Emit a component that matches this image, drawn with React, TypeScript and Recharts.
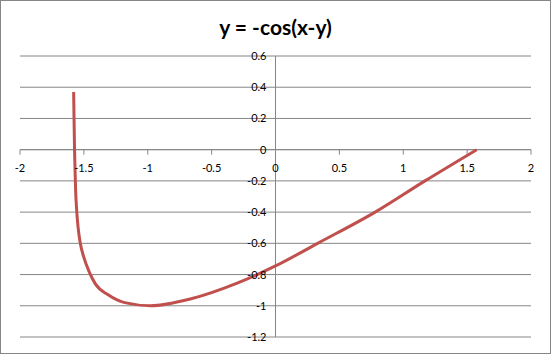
import {
  LineChart,
  Line,
  CartesianGrid,
  XAxis,
  YAxis,
  ReferenceLine,
} from "recharts";

// points
const xValues = [
  -1.58, -1.577, -1.575, -1.573, -1.57, -1.565, -1.557, -1.545, -1.528, -1.5,
  -1.46, -1.41, -1.31, -1.18, -0.98, -0.66, -0.3, 0, 0.33, 0.78, 1.17, 1.575,
];
const yValues = [
  0.37, 0.2, 0.1, 0, -0.1, -0.25, -0.38, -0.5, -0.6, -0.69,
  -0.78, -0.86, -0.93, -0.98, -1.0, -0.955, -0.855, -0.745, -0.6, -0.4, -0.2, 0,
];
const xTicks = [-2, -1.5, -1, -0.5, 0, 0.5, 1, 1.5, 2];
const yTicks = [-1.2, -1, -0.8, -0.6, -0.4, -0.2, 0, 0.2, 0.4, 0.6];
const title = "y = -cos(x-y)";

const data = xValues.map((x, i) => ({ x, y: yValues[i] }));

const W = 551;
const H = 354;
const margin = { top: 56, right: 20, bottom: 16, left: 19 };
const plotLeft = margin.left + 1;
const plotW = W - plotLeft - margin.right;
const plotH = H - margin.top - margin.bottom - 1;
const zeroX = plotLeft + (plotW * (0 - xTicks[0])) / (xTicks[xTicks.length - 1] - xTicks[0]);
const zeroY = margin.top + (plotH * yTicks[yTicks.length - 1]) / (yTicks[yTicks.length - 1] - yTicks[0]);

const grid = "#868686";
const font = "Lato, 'Open Sans', sans-serif";

const renderXTick = (props: any) => {
  const { x, payload } = props;
  return (
    <g>
      <line x1={x} x2={x} y1={zeroY} y2={zeroY + 5} stroke={grid} />
      <text x={x} y={zeroY + 22} textAnchor="middle" fontSize={11} fontFamily={font} fill="#000">
        {payload.value}
      </text>
    </g>
  );
};

const renderYTick = (props: any) => {
  const { y, payload } = props;
  return (
    <text x={zeroX - 9} y={y + 4} textAnchor="end" fontSize={11} fontFamily={font} fill="#000">
      {payload.value}
    </text>
  );
};

export default function App() {
  return (
    <div style={{ position: "absolute", left: 0, top: 0, width: W, height: H, background: "#fff" }}>
      <LineChart width={W} height={H} data={data} margin={margin}>
        <text x={W / 2} y={35} textAnchor="middle" fontSize={21} fontWeight="bold" fontFamily={font} fill="#000">
          {title}
        </text>
        <CartesianGrid vertical={false} stroke={grid} strokeWidth={1} />
        <XAxis
          type="number"
          dataKey="x"
          domain={[xTicks[0], xTicks[xTicks.length - 1]]}
          ticks={xTicks}
          height={1}
          axisLine={false}
          tickLine={false}
          tick={renderXTick}
          interval={0}
        />
        <YAxis
          type="number"
          domain={[yTicks[0], yTicks[yTicks.length - 1]]}
          ticks={yTicks}
          width={1}
          axisLine={false}
          tickLine={false}
          tick={renderYTick}
          interval={0}
        />
        <ReferenceLine x={0} stroke={grid} />
        <ReferenceLine y={0} stroke={grid} />
        <Line
          dataKey="y"
          type="monotone"
          stroke="#C0504D"
          strokeWidth={3}
          dot={false}
          isAnimationActive={false}
        />
      </LineChart>
      <div
        style={{
          position: "absolute",
          left: 0,
          top: 0,
          width: W,
          height: H,
          boxSizing: "border-box",
          border: `1px solid ${grid}`,
          pointerEvents: "none",
        }}
      />
    </div>
  );
}
